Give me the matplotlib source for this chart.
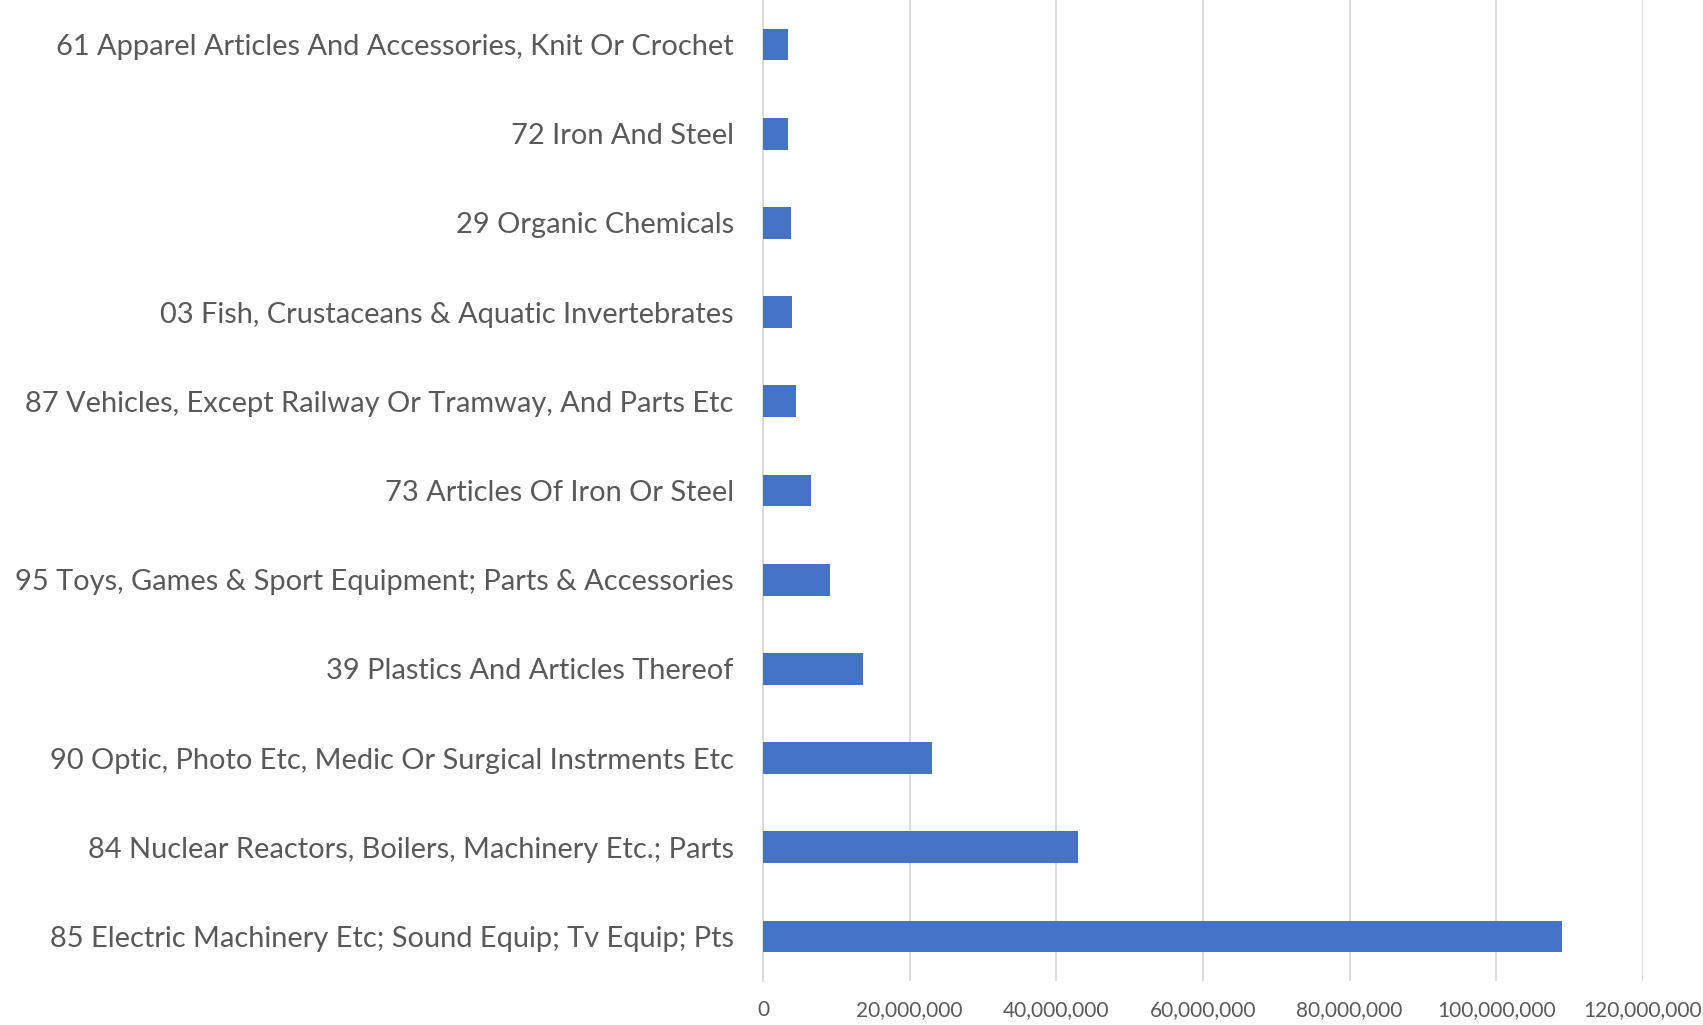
import matplotlib.pyplot as plt
from matplotlib.ticker import FuncFormatter

# Top 11 product groups (HS chapters), bottom to top as in the chart
categories = [
    "85 Electric Machinery Etc; Sound Equip; Tv Equip; Pts",
    "84 Nuclear Reactors, Boilers, Machinery Etc.; Parts",
    "90 Optic, Photo Etc, Medic Or Surgical Instrments Etc",
    "39 Plastics And Articles Thereof",
    "95 Toys, Games & Sport Equipment; Parts & Accessories",
    "73 Articles Of Iron Or Steel",
    "87 Vehicles, Except Railway Or Tramway, And Parts Etc",
    "03 Fish, Crustaceans & Aquatic Invertebrates",
    "29 Organic Chemicals",
    "72 Iron And Steel",
    "61 Apparel Articles And Accessories, Knit Or Crochet",
]
values = [109.0e6, 43.0e6, 23.1e6, 13.7e6, 9.2e6, 6.6e6, 4.5e6, 4.0e6, 3.75e6, 3.45e6, 3.35e6]
xticks = [0, 20e6, 40e6, 60e6, 80e6, 100e6, 120e6]

plt.rcParams['font.family'] = ['Lato', 'DejaVu Sans']
text_color = "#595959"

fig = plt.figure(figsize=(17.03, 10.25), dpi=100)
ax = fig.add_axes([763 / 1703, 1 - 981 / 1025, (1643 - 763) / 1703, 981 / 1025])

ypos = range(len(categories))
ax.barh(ypos, values, height=0.355, color="#4472C4", zorder=3)

ax.set_xlim(0, 120e6)
ax.set_ylim(-0.5, len(categories) - 0.5)
ax.set_xticks(xticks)
ax.xaxis.set_major_formatter(FuncFormatter(lambda v, p: f"{v:,.0f}"))
ax.set_yticks(list(ypos))
ax.set_yticklabels(categories)

ax.grid(axis="x", color="#D9D9D9", linewidth=1.3, zorder=0)
for s in ["top", "right", "bottom"]:
    ax.spines[s].set_visible(False)
ax.spines["left"].set_color("#D9D9D9")
ax.spines["left"].set_linewidth(1.3)

ax.tick_params(axis="y", length=0, pad=21, labelsize=20.9, labelcolor=text_color)
ax.tick_params(axis="x", length=0, pad=14, labelsize=15, labelcolor=text_color)

fig.savefig("out.png", dpi=100)
